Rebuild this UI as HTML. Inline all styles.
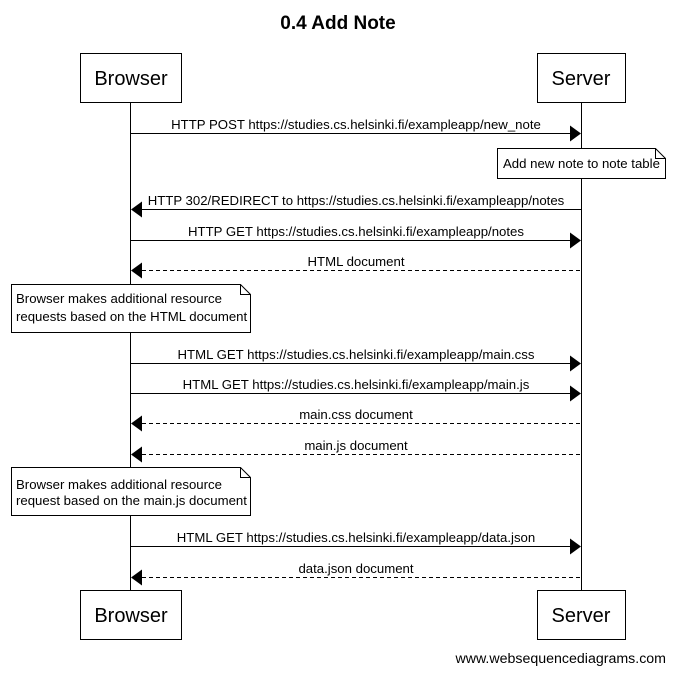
<!DOCTYPE html>
<html><head><style>body{margin:0;background:#fff}svg{display:block}text{font-family:"Liberation Sans",Arial,sans-serif}</style></head>
<body>
<svg width="675" height="673" xmlns="http://www.w3.org/2000/svg">
<text x="338" y="29" font-size="19" font-weight="bold" text-anchor="middle">0.4 Add Note</text>
<g stroke="#000" stroke-width="1" fill="none">
<line x1="130.5" y1="103" x2="130.5" y2="591"/>
<line x1="581.5" y1="103" x2="581.5" y2="591"/>
<rect x="80.5" y="53.5" width="101" height="49"/>
<rect x="537.5" y="53.5" width="88" height="49"/>
<rect x="80.5" y="590.5" width="101" height="49"/>
<rect x="537.5" y="590.5" width="88" height="49"/>
<line x1="131" y1="133.5" x2="570" y2="133.5"/>
<line x1="142" y1="209.5" x2="581" y2="209.5"/>
<line x1="131" y1="240.5" x2="570" y2="240.5"/>
<line x1="142" y1="270.5" x2="581" y2="270.5" stroke-dasharray="4,3"/>
<line x1="131" y1="363.5" x2="570" y2="363.5"/>
<line x1="131" y1="393.5" x2="570" y2="393.5"/>
<line x1="142" y1="423.5" x2="581" y2="423.5" stroke-dasharray="4,3"/>
<line x1="142" y1="454.5" x2="581" y2="454.5" stroke-dasharray="4,3"/>
<line x1="131" y1="546.5" x2="570" y2="546.5"/>
<line x1="142" y1="577.5" x2="581" y2="577.5" stroke-dasharray="4,3"/>
<path d="M497.5 148.5 H655.5 L665.5 158.5 V178.5 H497.5 Z M655.5 148.5 V158.5 H665.5" fill="#fff"/>
<path d="M11.5 284.5 H240.5 L250.5 294.5 V332.5 H11.5 Z M240.5 284.5 V294.5 H250.5" fill="#fff"/>
<path d="M11.5 467.5 H240.5 L250.5 477.5 V515.5 H11.5 Z M240.5 467.5 V477.5 H250.5" fill="#fff"/>
</g>
<g fill="#000">
<path d="M581 133.5 l-11 -8 v16z"/>
<path d="M131 209.5 l11 -8 v16z"/>
<path d="M581 240.5 l-11 -8 v16z"/>
<path d="M131 270.5 l11 -8 v16z"/>
<path d="M581 363.5 l-11 -8 v16z"/>
<path d="M581 393.5 l-11 -8 v16z"/>
<path d="M131 423.5 l11 -8 v16z"/>
<path d="M131 454.5 l11 -8 v16z"/>
<path d="M581 546.5 l-11 -8 v16z"/>
<path d="M131 577.5 l11 -8 v16z"/>
</g>
<g font-size="20" text-anchor="middle">
<text x="131" y="85">Browser</text><text x="581" y="85">Server</text>
<text x="131" y="622">Browser</text><text x="581" y="622">Server</text>
</g>
<g font-size="13.2" text-anchor="middle">
<text x="356" y="129">HTTP POST https://studies.cs.helsinki.fi/exampleapp/new_note</text>
<text x="356" y="205">HTTP 302/REDIRECT to https://studies.cs.helsinki.fi/exampleapp/notes</text>
<text x="356" y="236">HTTP GET https://studies.cs.helsinki.fi/exampleapp/notes</text>
<text x="356" y="266">HTML document</text>
<text x="356" y="359">HTML GET https://studies.cs.helsinki.fi/exampleapp/main.css</text>
<text x="356" y="389">HTML GET https://studies.cs.helsinki.fi/exampleapp/main.js</text>
<text x="356" y="419">main.css document</text>
<text x="356" y="450">main.js document</text>
<text x="356" y="542">HTML GET https://studies.cs.helsinki.fi/exampleapp/data.json</text>
<text x="356" y="573">data.json document</text>
</g>
<g font-size="13.2">
<text x="503" y="168">Add new note to note table</text>
<text x="16" y="303">Browser makes additional resource</text>
<text x="16" y="321">requests based on the HTML document</text>
<text x="16" y="489">Browser makes additional resource</text>
<text x="16" y="505">request based on the main.js document</text>
<text x="666" y="663" font-size="14.2" text-anchor="end">www.websequencediagrams.com</text>
</g>
</svg>
</body></html>
